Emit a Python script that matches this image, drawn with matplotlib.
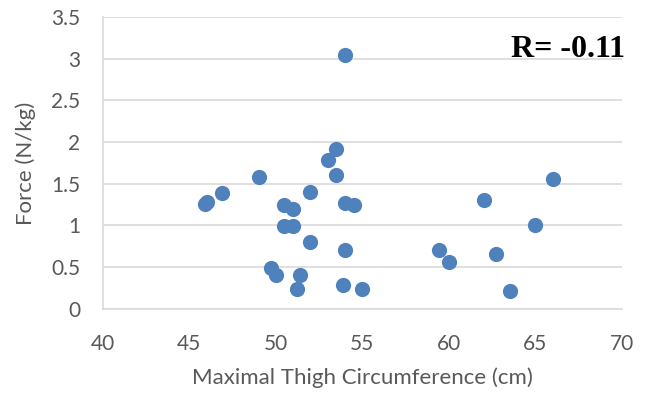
import matplotlib
matplotlib.use('Agg')
from matplotlib import pyplot as plt

# Thigh circumference (cm) and force (N/kg) for each subject
circumference = [45.9, 46.0, 46.9, 49.0, 50.5, 51.0, 50.5, 51.0, 52.0, 52.0,
                 53.0, 53.5, 53.5, 54.0, 54.0, 54.5, 54.0, 49.7, 50.0, 51.4,
                 51.2, 53.9, 55.0, 66.0, 62.0, 65.0, 59.4, 60.0, 62.7, 63.5]
force = [1.26, 1.28, 1.39, 1.58, 1.25, 1.20, 0.99, 0.99, 1.40, 0.80,
         1.79, 1.92, 1.60, 3.04, 1.27, 1.25, 0.71, 0.49, 0.41, 0.41,
         0.24, 0.29, 0.24, 1.56, 1.30, 1.01, 0.71, 0.56, 0.66, 0.22]
r_label = 'R= -0.11'

label_color = '#595959'
grid_color = '#d9d9d9'
plt.rcParams['font.family'] = ['Lato', 'DejaVu Sans']

fig = plt.figure(figsize=(6.5, 3.96), dpi=100)
ax = fig.add_axes([0.158, 0.22, 0.799, 0.737])

ax.scatter(circumference, force, s=120, color='#4f81bd', zorder=3, linewidths=0)

ax.set_xlim(40, 70)
ax.set_ylim(0, 3.5)
ax.set_xticks(range(40, 71, 5))
ax.set_yticks([0, 0.5, 1, 1.5, 2, 2.5, 3, 3.5])
ax.set_yticklabels(['0', '0.5', '1', '1.5', '2', '2.5', '3', '3.5'])

ax.grid(axis='y', color=grid_color, linewidth=1.2, zorder=0)
for side in ['top', 'right']:
    ax.spines[side].set_visible(False)
for side in ['left', 'bottom']:
    ax.spines[side].set_color(grid_color)
    ax.spines[side].set_linewidth(1.2)
ax.tick_params(length=0, labelsize=15, labelcolor=label_color)
ax.tick_params(axis='x', pad=18)
ax.tick_params(axis='y', pad=16)

ax.set_xlabel('Maximal Thigh Circumference (cm)', fontsize=16, color=label_color, labelpad=10)
ax.set_ylabel('Force (N/kg)', fontsize=16, color=label_color, labelpad=11)

ax.text(1.005, 0.94, r_label, transform=ax.transAxes, ha='right', va='top',
        fontsize=23, fontweight='bold', family='Liberation Serif')

fig.savefig('out.png', dpi=100)
